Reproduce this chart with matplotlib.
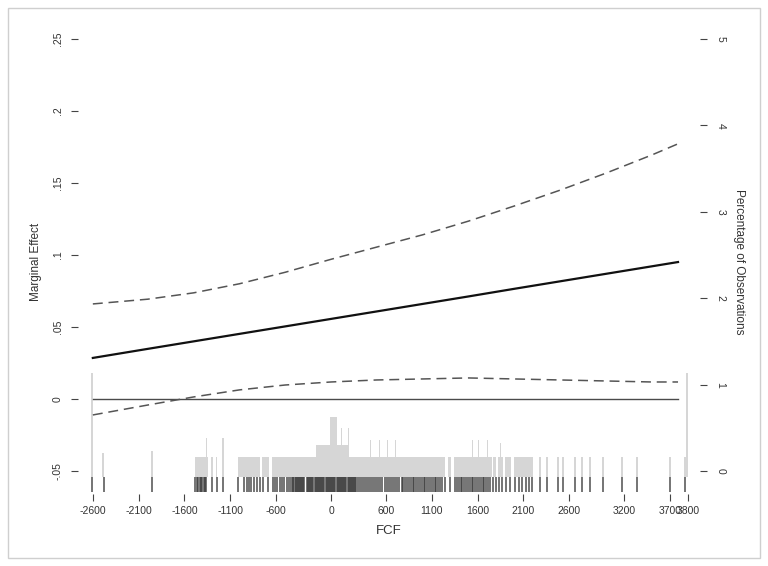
import matplotlib
matplotlib.use("Agg")
import matplotlib.pyplot as plt
from matplotlib.patches import Rectangle

plt.rcParams['font.family'] = ['Liberation Sans', 'DejaVu Sans']

# ---------------- data ----------------
fcf_grid = [-2600, -2000, -1500, -1000, -500, 0, 500, 1000, 1500, 2000, 2500, 3000, 3500, 3788]
me_est = [0.0285, 0.0348, 0.0400, 0.0452, 0.0504, 0.0556, 0.0608, 0.0660, 0.0712,
          0.0765, 0.0817, 0.0869, 0.0921, 0.0951]
me_upper = [0.0660, 0.0693, 0.0737, 0.0800, 0.0880, 0.0970, 0.1055, 0.1140, 0.1235,
            0.1340, 0.1450, 0.1568, 0.1694, 0.1772]
me_lower = [-0.0111, -0.0042, 0.0014, 0.0063, 0.0097, 0.0118, 0.0132, 0.0139, 0.0146,
            0.0139, 0.0132, 0.0125, 0.0118, 0.0118]

# histogram (percentage of observations): bin left edge, bin right edge, height
hist_left = [-2625, -2495, -1960, -1490, -1370, -1310, -1260, -1185, -1020, -750, -640,
             -160, -10, 65, 110, 180, 200, 430, 520, 610, 700, 1280, 1340, 1540, 1600,
             1700, 1770, 1820, 1840, 1900, 2000, 2270, 2350, 2470, 2525, 2655, 2730, 2820,
             2960, 3170, 3330, 3690, 3855, 3880]
hist_right = [-2600, -2475, -1940, -1340, -1358, -1290, -1240, -1165, -780, -680, -160,
              -10, 65, 200, 124, 192, 1240, 441, 531, 621, 711, 1310, 1760, 1551, 1611,
              1711, 1800, 1880, 1851, 1960, 2200, 2290, 2365, 2490, 2545, 2675, 2750, 2835,
              2980, 3185, 3350, 3710, 3875, 3900]
hist_pct = [1.20, 0.28, 0.30, 0.23, 0.45, 0.23, 0.23, 0.45, 0.23, 0.23, 0.23,
            0.37, 0.70, 0.37, 0.57, 0.57, 0.23, 0.43, 0.43, 0.43, 0.43, 0.23, 0.23, 0.43, 0.43,
            0.43, 0.23, 0.23, 0.40, 0.23, 0.23, 0.23, 0.23, 0.23, 0.23, 0.23, 0.23, 0.23,
            0.23, 0.23, 0.23, 0.23, 0.23, 1.20]

# rug: observed FCF values
rug_fcf = [-2610, -2480, -1950,
           -1480, -1465, -1450, -1435, -1420, -1405, -1390, -1375, -1360,
           -1300, -1250, -1175,
           -1010, -955, -920, -895, -870, -840, -810, -780,
           -740, -690,
           -635, -610, -590, -560, -540, -510, -480, -460, -440, -420,
           -410, -398, -386, -374, -362, -350, -338, -326, -314, -302, -290,
           -265, -252, -240, -228, -216, -204, -192, -180, -168, -156, -144, -132, -120,
           -108, -96, -84, -72, -60, -48, -36, -24, -12, 0, 12, 24, 36, 48, 60, 72, 84,
           96, 108, 120, 132, 144, 156, 168, 180, 192, 204, 216, 228, 240, 252, 264, 276,
           300, 318, 340, 360, 385, 405, 425, 450, 470, 495, 515, 540, 560, 585, 610,
           630, 655, 680, 700, 725, 745, 770, 790, 810, 830, 850, 870, 890, 910, 930,
           950, 970, 990, 1010, 1030, 1050, 1070, 1090, 1110, 1130, 1150, 1170, 1190, 1208,
           1245, 1300,
           1355, 1375, 1395, 1415, 1435, 1455, 1475, 1495, 1515, 1535, 1555, 1575, 1595,
           1615, 1635, 1655, 1675, 1695, 1715, 1735,
           1770, 1800, 1830, 1870, 1910, 1955,
           2010, 2050, 2090, 2130, 2160, 2194,
           2282, 2358, 2480, 2535, 2664, 2740, 2828, 2970, 3177, 3340, 3700, 3865]

x_ticks = [-2600, -2100, -1600, -1100, -600, 0, 600, 1100, 1600, 2100, 2600, 3200, 3700, 3900]
x_ticklabels = ['-2600', '-2100', '-1600', '-1100', '-600', '0', '600', '1100', '1600',
                '2100', '2600', '3200', '3700', '3800']
y_ticks = [-0.05, 0, 0.05, 0.10, 0.15, 0.20, 0.25]
y_ticklabels = ['-.05', '0', '.05', '.1', '.15', '.2', '.25']
pct_ticks = [0, 1, 2, 3, 4, 5]
pct_ticklabels = ['0', '1', '2', '3', '4', '5']

# ---------------- figure ----------------
W, H = 768, 566
fig = plt.figure(figsize=(W / 100, H / 100), dpi=100)
fig.patch.set_facecolor('white')
fig.patches.append(Rectangle((8 / W, 8 / H), (760 - 8) / W, (558 - 8) / H,
                             transform=fig.transFigure, fill=False,
                             edgecolor='#cfcfcf', linewidth=1.0))

ax_left, ax_right, ax_top, ax_bot = 78, 700, 30, 494
ax = fig.add_axes([ax_left / W, 1 - ax_bot / H, (ax_right - ax_left) / W, (ax_bot - ax_top) / H])
ax2 = ax.twinx()
ax.set_zorder(ax2.get_zorder() + 1)
ax.patch.set_visible(False)

# histogram + rug on the secondary axis
widths = [r - l for l, r in zip(hist_left, hist_right)]
ax2.bar(hist_left, hist_pct, width=widths, align='edge', bottom=-0.07,
        color='#d6d6d6', edgecolor='none', linewidth=0)
ax2.vlines(rug_fcf, -0.243, -0.075, color='#333333', alpha=0.8, linewidth=1.2)

# marginal-effect lines
ax.plot([fcf_grid[0], fcf_grid[-1]], [0, 0], color='#4a4a4a', linewidth=1.0)
ax.plot(fcf_grid, me_upper, color='#555555', linewidth=1.1, linestyle=(0, (6.5, 3.8)))
ax.plot(fcf_grid, me_lower, color='#555555', linewidth=1.1, linestyle=(0, (6.5, 3.8)))
ax.plot(fcf_grid, me_est, color='#111111', linewidth=1.6)

# axes limits
ax.set_xlim(-2762, 4028)
ax.set_ylim(-0.066, 0.25625)
ax2.set_ylim(-0.266, 5.104)

for a in (ax, ax2):
    for s in a.spines.values():
        s.set_visible(False)

ax.set_xticks(x_ticks)
ax.set_xticklabels(x_ticklabels)
ax.set_yticks(y_ticks)
ax.set_yticklabels(y_ticklabels)
ax2.set_yticks(pct_ticks)
ax2.set_yticklabels(pct_ticklabels)

ax.tick_params(axis='x', length=5, width=0.8, color='#444444', labelsize=7.5,
               labelcolor='#333333', pad=4)
ax.tick_params(axis='y', length=5, width=0.8, color='#444444', labelsize=7.5,
               labelcolor='#333333', pad=6, labelrotation=90)
ax2.tick_params(axis='y', length=5, width=0.8, color='#444444', labelsize=7.5,
                labelcolor='#333333', pad=6, labelrotation=270)
for lab in ax.get_yticklabels():
    lab.set_va('center')
for lab in ax2.get_yticklabels():
    lab.set_va('center')

ax.set_xlabel('FCF', fontsize=9.5, color='#333333', labelpad=6)
ax.set_ylabel('Marginal Effect', fontsize=8.5, color='#333333', labelpad=8)
ax2.set_ylabel('Percentage of Observations', fontsize=8.5, color='#333333',
               rotation=270, labelpad=14)

fig.savefig('out.png', dpi=100, facecolor='white')
